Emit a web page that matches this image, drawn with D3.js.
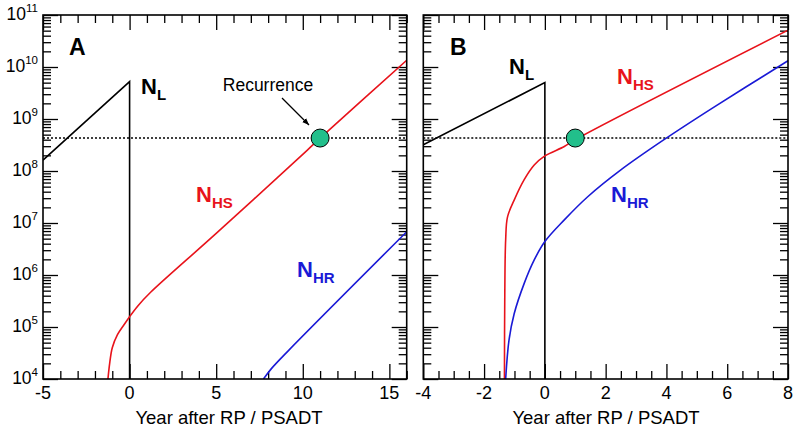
<!DOCTYPE html>
<html><head><meta charset="utf-8">
<script src="https://cdn.jsdelivr.net/npm/d3@7/dist/d3.min.js"></script>
<style>body{margin:0;background:#fff}svg{display:block}text{font-family:"Liberation Sans",Arial,Helvetica,sans-serif}</style>
</head><body><svg id="c" width="798" height="431"></svg>
<script>
// ---- data ----
const yTickExps = [4,5,6,7,8,9,10,11];
const recurrenceLevel = 4.3e8;

const aXTicksMajor = [-5,0,5,10,15];
const aNL_x = [-5, 0, 0];
const aNL_y = [1.62e8, 5.25e9, 1e4];
const aNHS_x = [-1.25,-1.15,-1.0,-0.7,-0.35,0,0.5,1.2,5,10.25,11,16];
const aNHS_y = [1e4,2e4,4e4,7.1e4,1.07e5,1.58e5,2.6e5,4.6e5,6.3e6,2.5e8,4.3e8,1.35e10];
const aNHR_x = [7.73,8.2,9.2,16];
const aNHR_y = [1e4,1.6e4,3.6e4,6.8e6];
const aRecurrenceX = 11;

const bXTicksMajor = [-4,-2,0,2,4,6,8];
const bNL_x = [-4, 0, 0];
const bNL_y = [3.2e8, 5e9, 1e4];
const bNHS_x = [-1.33,-1.32,-1.29,-1.23,-1.01,-0.68,-0.35,0,0.64,1,8];
const bNHS_y = [1e4,3.3e5,4.7e6,1.3e7,2.75e7,6.8e7,1.3e8,1.95e8,2.95e8,4.0e8,5.1e10];
const bNHR_x = [-1.29,-1.18,-1.01,-0.68,-0.35,0,0.64,1.41,2.5,3.92,5.5,8];
const bNHR_y = [1e4,5.6e4,1.8e5,6.9e5,1.95e6,4.4e6,1.15e7,3.2e7,1.05e8,4.0e8,1.6e9,1.32e10];
const bRecurrenceX = 1;

// ---- drawing ----
const svg = d3.select("#c");
const yTop = 15, yBottom = 379;
const y = d3.scaleLog().domain([1e4,1e11]).range([yBottom, yTop]);
const RED = "#e8131b", BLUE = "#1a1ad6", GREEN = "#22bf8b";

svg.append("defs").append("marker").attr("id","arr").attr("viewBox","0 0 10 10")
  .attr("refX",10).attr("refY",5).attr("markerWidth",7).attr("markerHeight",7)
  .attr("orient","auto").attr("markerUnits","userSpaceOnUse")
  .append("path").attr("d","M0,1 L10,5 L0,9 Z").attr("fill","#000");

const minorY = [];
for (let k=4;k<11;k++) for (let d=2; d<=9; d++) minorY.push(d*Math.pow(10,k));
const majorY = yTickExps.map(e=>Math.pow(10,e));

function panel(x0, x1, domain, majorX, minorStep, labels, series, recX, leftLabels) {
  const x = d3.scaleLinear().domain(domain).range([x0, x1]);
  const g = svg.append("g");
  const minorX = d3.range(domain[0], domain[1]+1e-9, minorStep).filter(v=>!majorX.some(m=>Math.abs(m-v)<1e-9));
  const addAxis = (axis, transform) => {
    const a = g.append("g").attr("transform", transform).call(axis);
    a.select(".domain").remove();
    a.selectAll("line").attr("stroke","#000").attr("stroke-width",1.3);
    a.selectAll("text").remove();
  };
  addAxis(d3.axisBottom(x).tickValues(majorX).tickSize(-15), `translate(0,${yBottom})`);
  addAxis(d3.axisBottom(x).tickValues(minorX).tickSize(-8), `translate(0,${yBottom})`);
  addAxis(d3.axisTop(x).tickValues(majorX).tickSize(-15), `translate(0,${yTop})`);
  addAxis(d3.axisTop(x).tickValues(minorX).tickSize(-8), `translate(0,${yTop})`);
  addAxis(d3.axisLeft(y).tickValues(majorY).tickSize(-15), `translate(${x0},0)`);
  addAxis(d3.axisLeft(y).tickValues(minorY).tickSize(-8), `translate(${x0},0)`);
  addAxis(d3.axisRight(y).tickValues(majorY).tickSize(-15), `translate(${x1},0)`);
  addAxis(d3.axisRight(y).tickValues(minorY).tickSize(-8), `translate(${x1},0)`);

  g.selectAll(".xl").data(majorX).join("text")
    .attr("x", d=>x(d)).attr("y", 398.5).attr("text-anchor","middle")
    .attr("font-size",18).text(d=>d);

  if (leftLabels) {
    yTickExps.forEach(e=>{
      const t = g.append("text").attr("x", x0-5).attr("y", y(Math.pow(10,e))+5)
        .attr("text-anchor","end");
      t.append("tspan").attr("font-size",17.5).text("10");
      t.append("tspan").attr("font-size",11.5).attr("dy",-8).text(e);
    });
  }

  g.append("line").attr("x1",x0).attr("x2",x1)
    .attr("y1",y(recurrenceLevel)).attr("y2",y(recurrenceLevel))
    .attr("stroke","#000").attr("stroke-width",1.5).attr("stroke-dasharray","2,2");

  const clip = "clip"+Math.round(x0);
  svg.append("clipPath").attr("id",clip).append("rect")
    .attr("x",x0).attr("y",yTop).attr("width",x1-x0).attr("height",yBottom-yTop);
  const lg = g.append("g").attr("clip-path",`url(#${clip})`);
  series.forEach(s=>{
    const pts = s.xs.map((v,i)=>[x(v), y(s.ys[i])]);
    const line = d3.line().curve(s.curve ? d3.curveCatmullRom.alpha(0.5) : d3.curveLinear);
    lg.append("path").attr("d", line(pts)).attr("fill","none")
      .attr("stroke", s.color).attr("stroke-width",1.6);
  });

  g.append("circle").attr("cx",x(recX)).attr("cy",y(recurrenceLevel)).attr("r",9)
    .attr("fill",GREEN).attr("stroke","#000").attr("stroke-width",1);

  g.append("rect").attr("x",x0).attr("y",yTop).attr("width",x1-x0).attr("height",yBottom-yTop)
    .attr("fill","none").attr("stroke","#000").attr("stroke-width",1.6);

  g.append("text").attr("x", labels.titleX).attr("y",424).attr("text-anchor","middle")
    .attr("font-size",18.5).text("Year after RP / PSADT");

  g.append("text").attr("x",labels.letter[0]).attr("y",labels.letter[1])
    .attr("font-size",23).attr("font-weight","bold").text(labels.letter[2]);

  labels.names.forEach(n=>{
    const t = g.append("text").attr("x",n.x).attr("y",n.y).attr("fill",n.color)
      .attr("font-weight","bold");
    t.append("tspan").attr("font-size",22).text("N");
    t.append("tspan").attr("font-size",15).attr("dy",6).text(n.sub);
  });
  return x;
}

panel(43, 406.7, [-5,16], aXTicksMajor, 1, {
  titleX: 229, letter:[69,55,"A"],
  names:[
    {x:141, y:93.5, sub:"L", color:"#000"},
    {x:196, y:201.5, sub:"HS", color:RED},
    {x:297, y:276.5, sub:"HR", color:BLUE}
  ]
}, [
  {xs:aNL_x, ys:aNL_y, color:"#000", curve:false},
  {xs:aNHS_x, ys:aNHS_y, color:RED, curve:true},
  {xs:aNHR_x, ys:aNHR_y, color:BLUE, curve:true}
], aRecurrenceX, true);

panel(423.3, 788, [-4,8], bXTicksMajor, 0.5, {
  titleX: 606, letter:[450,55,"B"],
  names:[
    {x:509, y:73.5, sub:"L", color:"#000"},
    {x:617, y:83.5, sub:"HS", color:RED},
    {x:611, y:201.5, sub:"HR", color:BLUE}
  ]
}, [
  {xs:bNL_x, ys:bNL_y, color:"#000", curve:false},
  {xs:bNHS_x, ys:bNHS_y, color:RED, curve:true},
  {xs:bNHR_x, ys:bNHR_y, color:BLUE, curve:true}
], bRecurrenceX, false);

svg.append("text").attr("x",268).attr("y",91).attr("text-anchor","middle")
  .attr("font-size",17.5).text("Recurrence");
svg.append("line").attr("x1",282).attr("y1",98).attr("x2",309).attr("y2",125)
  .attr("stroke","#000").attr("stroke-width",1.2).attr("marker-end","url(#arr)");
</script></body></html>
